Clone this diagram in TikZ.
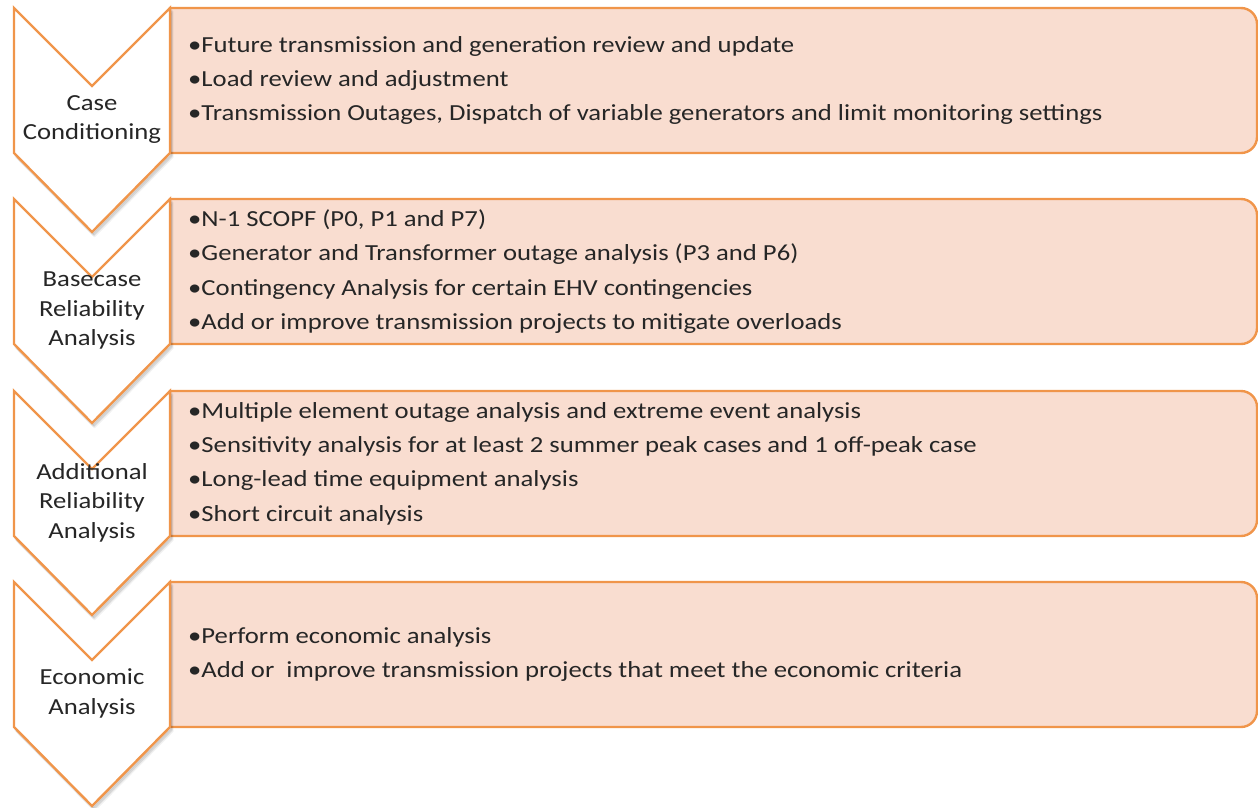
\documentclass[tikz,border=0pt]{standalone}
\usepackage{fontspec}
\setmainfont[FakeStretch=1.16]{Carlito}
\definecolor{edge}{HTML}{F0954A}
\definecolor{boxfill}{HTML}{F9DDD0}
\definecolor{ink}{HTML}{262626}
\tikzset{
  chev/.style={draw=edge, line width=2.4pt, fill=white, line join=miter},
  chevshadow/.style={fill=black, draw=black, line width=2.4pt, line join=round, opacity=#1},
  infobox/.style={draw=edge, line width=2.4pt, fill=boxfill},
  items/.style={anchor=west, align=left, text=ink, inner sep=0pt,
    font=\fontsize{23}{34.3}\selectfont},
  stage/.style={align=center, text=ink, inner sep=0pt,
    font=\fontsize{23}{29.5}\selectfont}
}
\newcommand{\chevpath}[3]{(14+#1,#3+#2) -- (92+#1,#3+78+#2) -- (170+#1,#3+#2) -- (170+#1,#3+145+#2) -- (92+#1,#3+224+#2) -- (14+#1,#3+145+#2) -- cycle}
\begin{document}
\begin{tikzpicture}[x=1pt,y=1pt,yscale=-1]
\useasboundingbox (0,0) rectangle (1258,807);
\foreach \t/\n in {8/1,199/2,391/3,582/4}{
  \draw[infobox] (170,\t+145) -- (170,\t) [rounded corners=16] -- (1257,\t) -- (1257,\t+145) [sharp corners] -- (170,\t+145) -- cycle;
  \filldraw[chevshadow=0.05] \chevpath{2.5}{4}{\t};
  \filldraw[chevshadow=0.08] \chevpath{1.5}{2.5}{\t};
  \draw[chev] \chevpath{0}{0}{\t};
}
\node[items] (t1) at (188,80.5) {•Future transmission and generation review and update\\•Load review and adjustment\\•Transmission Outages, Dispatch of variable generators and limit monitoring settings};
\node[items] (t2) at (188,271.5) {•N-1 SCOPF (P0, P1 and P7)\\•Generator and Transformer outage analysis (P3 and P6)\\•Contingency Analysis for certain EHV contingencies\\•Add or improve transmission projects to mitigate overloads};
\node[items] (t3) at (188,463.5) {•Multiple element outage analysis and extreme event analysis\\•Sensitivity analysis for at least 2 summer peak cases and 1 off-peak case\\•Long-lead time equipment analysis\\•Short circuit analysis};
\node[items] (t4) at (188,654.5) {•Perform economic analysis\\•Add or\ \ improve transmission projects that meet the economic criteria};
\node[stage] (l1) at (92,119.5) {Case\\Conditioning};
\node[stage] (l2) at (92,310.5) {Basecase\\Reliability\\Analysis};
\node[stage] (l3) at (92,502.5) {Additional\\Reliability\\Analysis};
\node[stage] (l4) at (92,693.5) {Economic\\Analysis};
\end{tikzpicture}
\end{document}
